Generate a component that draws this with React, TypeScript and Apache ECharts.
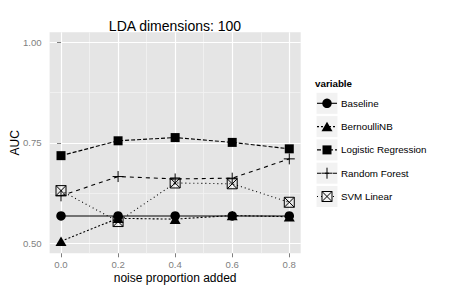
import React, { useEffect, useRef } from "react";
import * as echarts from "echarts";

const noise = [0.0, 0.2, 0.4, 0.6, 0.8];
const baseline = [0.568, 0.568, 0.568, 0.568, 0.568];
const bernoulliNB = [0.505, 0.562, 0.56, 0.569, 0.566];
const logistic = [0.718, 0.755, 0.763, 0.751, 0.735];
const randomForest = [0.618, 0.666, 0.66, 0.662, 0.71];
const svmLinear = [0.631, 0.554, 0.65, 0.648, 0.602];

const xMajor = [0.0, 0.2, 0.4, 0.6, 0.8];
const xMinor = [0.1, 0.3, 0.5, 0.7];
const yMajor = [0.5, 0.75, 1.0];
const yMinor = [0.625, 0.875];

const seriesNames = ["Baseline", "BernoulliNB", "Logistic Regression", "Random Forest", "SVM Linear"];

const FONT = "'Liberation Sans', Arial, Helvetica, sans-serif";
const PLUS = "path://M0,5.5L11,5.5M5.5,0L5.5,11";
const SQCROSS = "path://M0,0L10,0L10,10L0,10ZM0,0L10,10M10,0L0,10";

export default function App() {
  const ref = useRef<HTMLDivElement>(null);
  useEffect(() => {
    if (!ref.current) return;
    const chart = echarts.init(ref.current, null, { renderer: "svg" });
    const pairs = (ys: number[]) => noise.map((x, i) => [x, ys[i]]);
    const dashes: any[] = ["solid", [2, 2], [4, 2], [4, 4], [1, 3]];
    const values = [baseline, bernoulliNB, logistic, randomForest, svmLinear];
    const symbols: any[] = [
      { symbol: "circle", symbolSize: 9.5, itemStyle: { color: "#000", borderWidth: 0 } },
      { symbol: "triangle", symbolSize: [11, 9.5], itemStyle: { color: "#000", borderWidth: 0 } },
      { symbol: "rect", symbolSize: 9, itemStyle: { color: "#000", borderWidth: 0 } },
      { symbol: PLUS, symbolSize: 11, itemStyle: { color: "rgba(0,0,0,0)", borderColor: "#000", borderWidth: 1 } },
      { symbol: SQCROSS, symbolSize: 10, itemStyle: { color: "rgba(0,0,0,0)", borderColor: "#000", borderWidth: 1 } },
    ];
    const series = seriesNames.map((name, i) => ({
      name,
      type: "line",
      xAxisIndex: 0,
      yAxisIndex: 0,
      data: pairs(values[i]),
      lineStyle: { color: "#000", width: 1.1, type: dashes[i] },
      ...symbols[i],
      showSymbol: true,
      emphasis: { disabled: true },
      z: 3,
    }));

    // legend drawn with graphic elements
    const centers = [103.3, 126.6, 149.9, 173.2, 196.5];
    const kx = 316.5, kw = 21, cx = 327;
    const legendEls: any[] = [
      {
        type: "text",
        x: 315,
        y: 83,
        style: { text: "variable", font: `bold 9.8px ${FONT}`, fill: "#000", textVerticalAlign: "middle" },
      },
    ];
    centers.forEach((cy, i) => {
      legendEls.push({ type: "rect", shape: { x: kx, y: cy - 10.5, width: kw, height: 21 }, style: { fill: "#F2F2F2" } });
      legendEls.push({
        type: "line",
        shape: { x1: kx + 0.5, y1: cy, x2: kx + kw - 0.5, y2: cy },
        style: { stroke: "#000", lineWidth: 1.1, lineDash: dashes[i] === "solid" ? null : dashes[i] },
      });
      if (i === 0) legendEls.push({ type: "circle", shape: { cx, cy, r: 4.75 }, style: { fill: "#000" } });
      if (i === 1)
        legendEls.push({
          type: "polygon",
          shape: { points: [[cx, cy - 4.75], [cx + 5.5, cy + 4.75], [cx - 5.5, cy + 4.75]] },
          style: { fill: "#000" },
        });
      if (i === 2) legendEls.push({ type: "rect", shape: { x: cx - 4.5, y: cy - 4.5, width: 9, height: 9 }, style: { fill: "#000" } });
      if (i === 3) {
        legendEls.push({ type: "line", shape: { x1: cx - 5.5, y1: cy, x2: cx + 5.5, y2: cy }, style: { stroke: "#000", lineWidth: 1 } });
        legendEls.push({ type: "line", shape: { x1: cx, y1: cy - 5.5, x2: cx, y2: cy + 5.5 }, style: { stroke: "#000", lineWidth: 1 } });
      }
      if (i === 4) {
        legendEls.push({ type: "rect", shape: { x: cx - 5, y: cy - 5, width: 10, height: 10 }, style: { fill: "#F2F2F2", stroke: "#000", lineWidth: 1 } });
        legendEls.push({ type: "line", shape: { x1: cx - 5, y1: cy - 5, x2: cx + 5, y2: cy + 5 }, style: { stroke: "#000", lineWidth: 1 } });
        legendEls.push({ type: "line", shape: { x1: cx + 5, y1: cy - 5, x2: cx - 5, y2: cy + 5 }, style: { stroke: "#000", lineWidth: 1 } });
      }
      legendEls.push({
        type: "text",
        x: 341,
        y: cy,
        style: { text: seriesNames[i], font: `9.8px ${FONT}`, fill: "#000", textVerticalAlign: "middle" },
      });
    });

    const tickLabel = { color: "#7F7F7F", fontSize: 9.6, fontFamily: FONT };
    const option: any = {
      animation: false,
      backgroundColor: "#fff",
      title: {
        text: "LDA dimensions: 100",
        left: 175,
        top: 18.5,
        textAlign: "center",
        textStyle: { fontFamily: FONT, fontSize: 14, fontWeight: "normal", color: "#000" },
        padding: 0,
      },
      grid: {
        left: 49.6,
        right: 151.3,
        top: 32.3,
        bottom: 37.7,
        show: true,
        backgroundColor: "#E5E5E5",
        borderWidth: 0,
        containLabel: false,
        outerBoundsMode: "none",
      },
      xAxis: [
        {
          type: "value",
          min: -0.04,
          max: 0.84,
          position: "bottom",
          axisLine: { show: false },
          axisTick: { show: true, customValues: xMajor, length: 4, lineStyle: { color: "#7F7F7F" } },
          axisLabel: { ...tickLabel, customValues: xMajor, margin: 6, formatter: (v: number) => v.toFixed(1) },
          splitLine: { show: true, lineStyle: { color: "#FFFFFF", width: 1.2 } },
          name: "noise proportion added",
          nameLocation: "middle",
          nameGap: 18.5,
          nameMoveOverlap: false,
          nameTextStyle: { fontFamily: FONT, fontSize: 12, color: "#000" },
          z: 1,
        },
        {
          type: "value",
          min: -0.04,
          max: 0.84,
          position: "top",
          axisLine: { show: false },
          axisTick: { show: false, customValues: xMinor },
          axisLabel: { show: false, customValues: xMinor },
          splitLine: { show: true, lineStyle: { color: "#F2F2F2", width: 0.8 } },
          z: 0,
        },
      ],
      yAxis: [
        {
          type: "value",
          min: 0.475,
          max: 1.025,
          position: "left",
          axisLine: { show: false },
          axisTick: { show: true, customValues: yMajor, length: 4, lineStyle: { color: "#7F7F7F" } },
          axisLabel: { ...tickLabel, customValues: yMajor, margin: 8, formatter: (v: number) => v.toFixed(2) },
          splitLine: { show: true, lineStyle: { color: "#FFFFFF", width: 1.2 } },
          name: "AUC",
          nameLocation: "middle",
          nameGap: 29,
          nameRotate: 90,
          nameMoveOverlap: false,
          nameTextStyle: { fontFamily: FONT, fontSize: 12, color: "#000" },
          z: 1,
        },
        {
          type: "value",
          min: 0.475,
          max: 1.025,
          position: "right",
          axisLine: { show: false },
          axisTick: { show: false, customValues: yMinor },
          axisLabel: { show: false, customValues: yMinor },
          splitLine: { show: true, lineStyle: { color: "#F2F2F2", width: 0.8 } },
          z: 0,
        },
      ],
      series,
      graphic: legendEls,
    };
    chart.setOption(option);
    return () => chart.dispose();
  }, []);
  return <div ref={ref} style={{ position: "fixed", left: 0, top: 0, width: 452, height: 291 }} />;
}
